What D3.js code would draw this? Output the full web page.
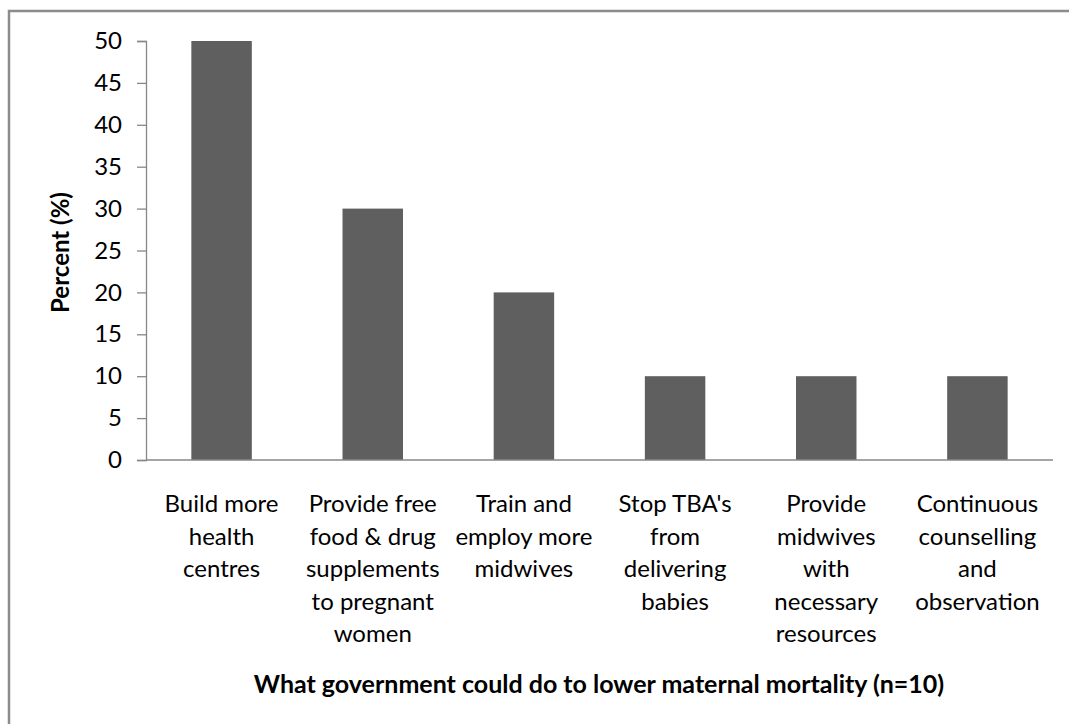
<!DOCTYPE html>
<html>
<head>
<meta charset="utf-8">
<script src="https://cdn.jsdelivr.net/npm/d3@7"></script>
<style>
  html, body { margin: 0; padding: 0; background: #fff; }
  svg { display: block; font-family: Lato, "Open Sans", sans-serif; }
</style>
</head>
<body>
<svg id="chart" width="1069" height="724"></svg>
<script>
// Survey responses: what government could do to lower maternal mortality
const categories = [
  ["Build more", "health", "centres"],
  ["Provide free", "food & drug", "supplements", "to pregnant", "women"],
  ["Train and", "employ more", "midwives"],
  ["Stop TBA's", "from", "delivering", "babies"],
  ["Provide", "midwives", "with", "necessary", "resources"],
  ["Continuous", "counselling", "and", "observation"]
];
const percentValues = [50, 30, 20, 10, 10, 10];
const yTicks = [0, 5, 10, 15, 20, 25, 30, 35, 40, 45, 50];
const yTitle = "Percent (%)";
const xTitle = "What government could do to lower maternal mortality (n=10)";

const svg = d3.select("#chart");
const margin = { left: 146, right: 16, top: 41, bottom: 264 };
const W = 1069, H = 724;
const FONT = "Lato, 'Open Sans', sans-serif";

// outer frame
svg.append("rect")
  .attr("x", 9).attr("y", 11)
  .attr("width", W + 10).attr("height", H + 10)
  .attr("fill", "none").attr("stroke", "#8c8c8c").attr("stroke-width", 2.5);

const x = d3.scaleBand()
  .domain(d3.range(categories.length))
  .range([margin.left, W - margin.right])
  .paddingInner(0.6).paddingOuter(0.3);

const y = d3.scaleLinear().domain([0, 50]).range([H - margin.bottom, margin.top]);

// bars
svg.append("g").selectAll("rect")
  .data(percentValues)
  .join("rect")
  .attr("x", (d, i) => x(i))
  .attr("y", d => y(d))
  .attr("width", x.bandwidth())
  .attr("height", d => y(0) - y(d))
  .attr("fill", "#5f5f5f");

// y axis
const yAxis = svg.append("g")
  .attr("transform", `translate(${margin.left},0)`)
  .call(d3.axisLeft(y).tickValues(yTicks).tickSize(9).tickPadding(15))
  .attr("font-family", FONT);
yAxis.select(".domain").attr("stroke", "#878787").attr("stroke-width", 1.3);
yAxis.selectAll(".tick line").attr("stroke", "#878787").attr("stroke-width", 1.3);
yAxis.selectAll(".tick text").attr("fill", "#000").style("font-size", "24px");

// x axis baseline
svg.append("line")
  .attr("x1", margin.left).attr("x2", W - margin.right)
  .attr("y1", y(0)).attr("y2", y(0))
  .attr("stroke", "#878787").attr("stroke-width", 1.3);

// category labels
const lab = svg.append("g").selectAll("text")
  .data(categories)
  .join("text")
  .attr("x", (d, i) => x(i) + x.bandwidth() / 2)
  .attr("y", 512)
  .attr("text-anchor", "middle")
  .style("font-size", "24px")
  .attr("fill", "#000");
lab.selectAll("tspan")
  .data(d => d)
  .join("tspan")
  .attr("x", function () { return this.parentNode.getAttribute("x"); })
  .attr("dy", (d, i) => i === 0 ? 0 : 32.5)
  .text(d => d);

// axis titles
svg.append("text")
  .attr("transform", `translate(69,${(y(0) + y(50)) / 2 + 2}) rotate(-90)`)
  .attr("text-anchor", "middle")
  .style("font-size", "24px").style("font-weight", "bold")
  .text(yTitle);

svg.append("text")
  .attr("x", 599).attr("y", 693)
  .attr("text-anchor", "middle")
  .style("font-size", "25px").style("font-weight", "bold")
  .text(xTitle);
</script>
</body>
</html>
